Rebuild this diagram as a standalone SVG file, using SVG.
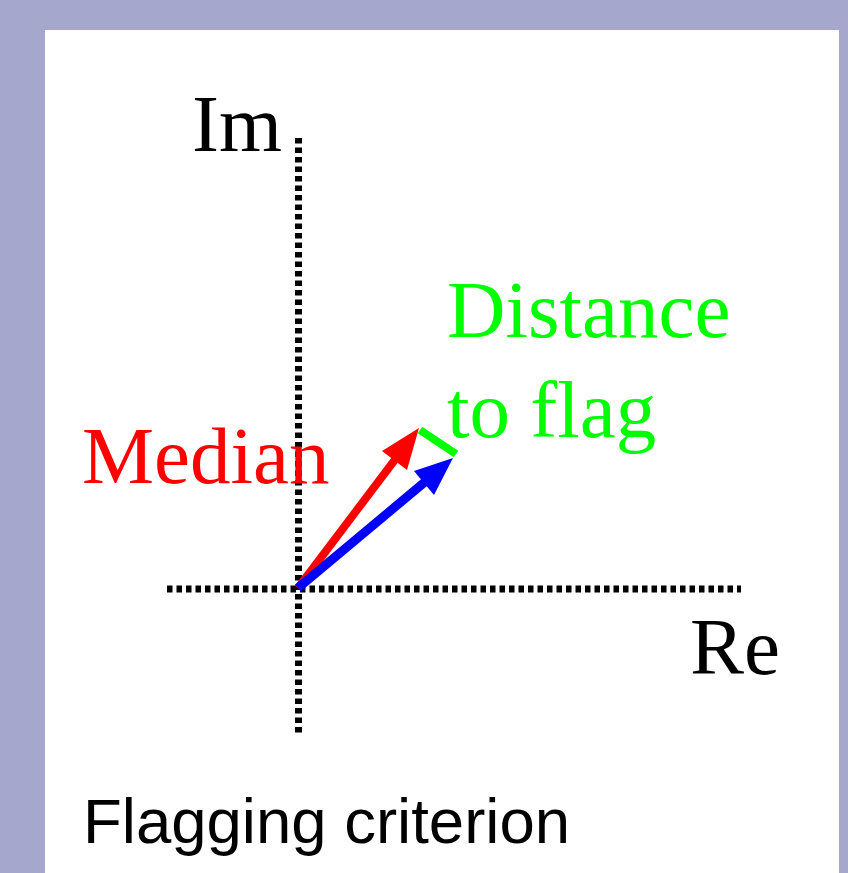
<svg xmlns="http://www.w3.org/2000/svg" width="848" height="873" viewBox="0 0 848 873">
  <style>
    .serif { font-family: "Liberation Serif", "Times New Roman", serif; font-size: 81px; }
    .sans { font-family: "Liberation Sans", Arial, sans-serif; font-size: 63.5px; }
    .axis { stroke: #000; stroke-width: 7; stroke-dasharray: 5.5 4; fill: none; }
  </style>
  <rect x="0" y="0" width="848" height="873" fill="#a5a8cc"/>
  <rect x="45" y="30" width="794" height="843" fill="#ffffff"/>

  <g id="axes">
    <line class="axis" x1="298.5" y1="138" x2="298.5" y2="736"/>
    <line class="axis" x1="167" y1="589" x2="741" y2="589"/>
  </g>

  <g id="labels">
    <text id="im" class="serif" x="192" y="151" fill="#000">Im</text>
    <text id="re" class="serif" x="690" y="674" fill="#000">Re</text>
    <text id="median" class="serif" x="82" y="483" fill="#ff0000">Median</text>
    <text id="distance" class="serif" x="447" y="337" fill="#00ff00">Distance</text>
    <text id="toflag" class="serif" x="447" y="437" fill="#00ff00">to flag</text>
    <text id="caption" class="sans" x="83" y="843" fill="#000">Flagging criterion</text>
  </g>

  <g id="connectors">
    <g id="median-arrow">
      <line x1="298" y1="588" x2="397" y2="457" stroke="#ff0000" stroke-width="8"/>
      <polygon points="419,428 407,470 382,451" fill="#ff0000"/>
    </g>
    <g id="data-arrow">
      <line x1="298" y1="588" x2="426" y2="481" stroke="#0000ff" stroke-width="9"/>
      <polygon points="453,458 434,495 414,471" fill="#0000ff"/>
    </g>
    <g id="distance-bar">
      <line x1="420" y1="430" x2="456" y2="454" stroke="#00ff00" stroke-width="8"/>
    </g>
  </g>
</svg>
